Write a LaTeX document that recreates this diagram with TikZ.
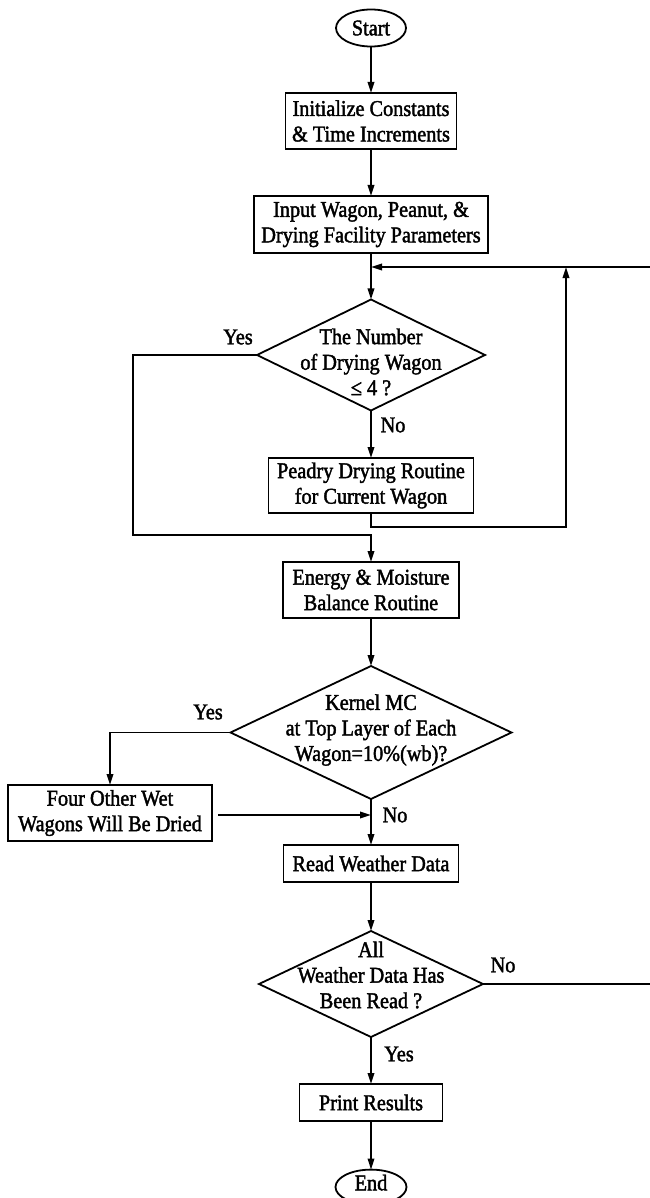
\documentclass[tikz,border=0pt]{standalone}
\usepackage{fontspec}
\setmainfont[FakeStretch=0.9,FakeBold=1.8]{Liberation Serif}
\usetikzlibrary{shapes.geometric,arrows.meta}
\begin{document}
\begin{tikzpicture}[x=1pt,y=-1pt,
  every node/.style={font=\fontsize{22.5}{25.5}\selectfont, inner sep=0pt, outer sep=0pt, align=center},
  procbox/.style={draw, line width=1.8pt, rectangle},
  term/.style={draw, line width=1.8pt, ellipse},
  dia/.style={draw, line width=1.8pt, diamond},
  conn/.style={line width=1.8pt},
  arr/.style={conn, -{Triangle[length=11pt,width=6.5pt]}}]
\useasboundingbox (0,0) rectangle (649,1198);

% nodes
\node[term, minimum width=70pt, minimum height=37pt] (start) at (371,28) {Start};
\node[procbox, minimum width=171pt, minimum height=56pt] (init) at (371,121) {Initialize Constants\\\& Time Increments};
\node[procbox, minimum width=234pt, minimum height=57pt] (input) at (371,224.5) {Input Wagon, Peanut, \&\\Drying Facility Parameters};
\node[dia, minimum width=228pt, minimum height=111pt] (d1) at (371,355) {};
\node (d1t) at (371,362) {The Number\\of Drying Wagon\\≤ 4 ?};
\node[procbox, minimum width=205pt, minimum height=55pt] (peadry) at (371,485.5) {Peadry Drying Routine\\for Current Wagon};
\node[procbox, minimum width=176pt, minimum height=56pt] (energy) at (371,590) {Energy \& Moisture\\Balance Routine};
\node[dia, minimum width=281pt, minimum height=133pt] (d2) at (371,732.5) {};
\node (d2t) at (371,730) {Kernel MC\\at Top Layer of Each\\Wagon=10\%(wb)?};
\node[procbox, minimum width=204pt, minimum height=56pt] (four) at (110,813) {Four Other Wet\\Wagons Will Be Dried};
\node[procbox, minimum width=175pt, minimum height=37pt] (read) at (371,863.5) {Read Weather Data};
\node[dia, minimum width=224pt, minimum height=106pt] (d3) at (371,984) {};
\node (d3t) at (371,975) {All\\Weather Data Has\\Been Read ?};
\node[procbox, minimum width=143pt, minimum height=37pt] (print) at (371,1102.5) {Print Results};
\node[term, minimum width=71pt, minimum height=34pt, text depth=9pt] (end) at (371,1187) {End};

% labels
\node (l1) at (238,337) {Yes};
\node (l2) at (393,425) {No};
\node (l3) at (208,712) {Yes};
\node (l4) at (395,815) {No};
\node (l5) at (503,965) {No};
\node (l6) at (399,1054) {Yes};

% helper coordinates
\coordinate (m1) at (371,267);
\coordinate (m2) at (566,267);
\coordinate (rb) at (566,527);
\coordinate (far) at (664,984);
\coordinate (far2) at (664,267);
\coordinate (y1a) at (133,355);
\coordinate (y1b) at (133,535);
\coordinate (y1c) at (371,535);
\coordinate (fa) at (218,815);
\coordinate (fb) at (371,815);

% connectors
\draw[arr] (start) -- (init);
\draw[arr] (init) -- (input);
\draw[arr] (input) -- (d1);
\draw[arr] (d1) -- (peadry);
\draw[arr] (peadry.south) |- (rb) -- (m2);
\draw[arr] (d1.west) -- (y1a) -- (y1b) -- (y1c) -- (energy.north);
\draw[arr] (energy) -- (d2);
\draw[arr] (d2.west) -| (four.north);
\draw[arr] (fa) -- (fb);
\draw[arr] (d2) -- (read);
\draw[arr] (read) -- (d3);
\draw[arr] (d3.east) -- (far) -- (far2) -- (m1);
\draw[arr] (d3) -- (print);
\draw[arr] (print) -- (end);
\end{tikzpicture}
\end{document}
